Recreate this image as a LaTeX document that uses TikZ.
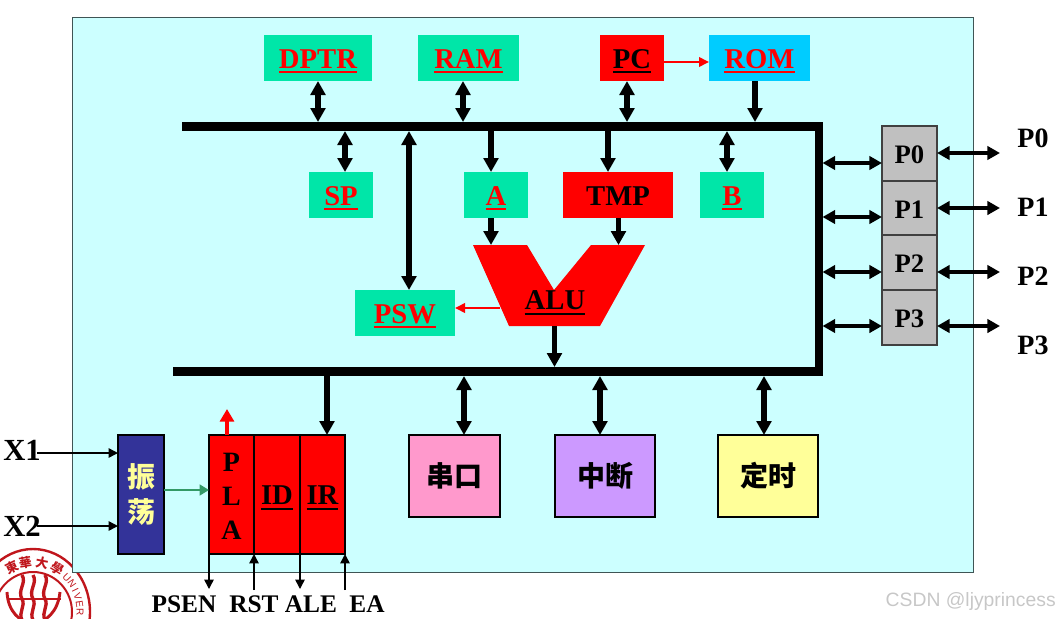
\documentclass[tikz,border=0pt]{standalone}
\usepackage{fontspec}
\setmainfont{Liberation Serif}
\newfontfamily\cjk{Noto Sans CJK SC}
\newfontfamily\wmfont{Liberation Sans}
\usetikzlibrary{arrows.meta,calc}
\definecolor{bgc}{HTML}{CCFFFF}
\definecolor{bdc}{HTML}{3F5555}
\definecolor{grn}{HTML}{00E6A8}
\definecolor{sky}{HTML}{00CCFF}
\definecolor{navy}{HTML}{333399}
\definecolor{pinkb}{HTML}{FF99CC}
\definecolor{purp}{HTML}{CC99FF}
\definecolor{yelb}{HTML}{FFFF99}
\definecolor{pgray}{HTML}{C0C0C0}
\definecolor{sealc}{HTML}{C0161C}
\definecolor{arrg}{HTML}{339966}
\newsavebox\ulb
\newcommand\ulx[1]{\leavevmode\sbox\ulb{#1}\smash{\rlap{\rule[-3.6pt]{\wd\ulb}{1.6pt}}}\usebox\ulb}
\tikzset{
  x=0.75pt,y=-0.75pt,
  sz/.style 2 args={minimum width=#1*0.75pt,minimum height=#2*0.75pt,inner sep=0pt,outer sep=0pt},
  lab/.style={font=\fontsize{21.5}{24}\bfseries,text depth=0pt,text height=15.7pt},
  gbox/.style={rectangle,fill=grn,text=red,lab},
  rbox/.style={rectangle,fill=red,text=black,lab},
  ebox/.style={rectangle,draw=black,line width=0.8pt,font=\fontsize{21}{24}\cjk\bfseries},
  pbox/.style={rectangle,draw=black!75,line width=0.8pt,fill=pgray},
  txt/.style={inner sep=0pt,font=\fontsize{21}{24}\bfseries},
  bus/.style={rectangle,fill=black,inner sep=0pt,outer sep=0pt},
  tt/.style={line width=3.9pt,-{Triangle[length=10.5pt,width=11pt]}},
  ttb/.style={line width=3.9pt,{Triangle[length=10.5pt,width=11pt]}-{Triangle[length=10.5pt,width=11pt]}},
  pt/.style={line width=3pt,{Triangle[length=9.5pt,width=10pt]}-{Triangle[length=9.5pt,width=10pt]}},
  thin1/.style={line width=1.1pt,-{Triangle[length=7pt,width=7pt]}},
  red1/.style={line width=2pt,red,-{Triangle[length=7.5pt,width=7pt]}},
}
\begin{document}
\begin{tikzpicture}
\useasboundingbox (0,0) rectangle (1060,618);
% seal
\begin{scope}
\clip (0,0) rectangle (1060,618);
\draw[sealc,line width=1.8pt] (33,612) ellipse[x radius=57,y radius=63];
\draw[sealc,line width=1.5pt] (33,612) ellipse[x radius=39,y radius=40];
\foreach \a/\c/\n in {116/東/a,99.5/華/b,79/大/c,59/學/d}{
  \node[inner sep=0pt,text=sealc,font=\fontsize{9.5}{10}\cjk\bfseries,rotate=\a-90] (seal\n) at ({33+47*cos(\a)},{612-50*sin(\a)}) {\c};
}
\foreach \a/\c/\n in {44/U/e,34/N/f,26/I/g,18/V/h,9/E/i,0/R/j}{
  \node[inner sep=0pt,text=sealc,font=\fontsize{7.5}{8}\selectfont\wmfont,rotate=\a-90] (seal\n) at ({33+47*cos(\a)},{612-50*sin(\a)}) {\c};
}
\draw[sealc,line width=2.2pt] (7,592) .. controls (8,612) and (20,622) .. (33,624) .. controls (46,622) and (58,612) .. (60,592);
\draw[sealc,line width=2.2pt] (8,599) -- (61,599);
\foreach \dx in {-11,0,12}{
  \draw[sealc,line width=2.5pt] ({33+\dx},575) .. controls ({38+\dx},583) and ({28+\dx},590) .. ({33+\dx},599) .. controls ({37+\dx},606) and ({29+\dx},612) .. ({33+\dx},620);
}
\end{scope}
% panel
\node[rectangle,draw=bdc,line width=0.75pt,fill=bgc,sz={901}{555}] (panel) at (522.5,294.5) {};
% buses
\node[bus,sz={636}{9}] (bus1) at (500,126.5) {};
\node[bus,sz={645}{9}] (bus2) at (495.5,371.5) {};
\node[bus,sz={8}{254}] (vbus) at (818.5,249) {};
% top row
\node[gbox,sz={108}{46}] (dptr) at (318,58) {\ulx{DPTR}};
\node[gbox,sz={101}{46}] (ram) at (468.5,58) {\ulx{RAM}};
\node[rbox,sz={64}{46}] (pc) at (632,58) {\ulx{PC}};
\node[gbox,fill=sky,sz={101}{46}] (rom) at (759.5,58) {\ulx{ROM}};
% second row
\node[gbox,sz={64}{46}] (sp) at (341,195) {\ulx{SP}};
\node[gbox,sz={64}{46}] (aa) at (496,195) {\ulx{A}};
\node[rbox,sz={110}{46}] (tmp) at (618,195) {TMP};
\node[gbox,sz={64}{46}] (bb) at (732,195) {\ulx{B}};
\node[gbox,sz={100}{46}] (psw) at (405,313) {\ulx{PSW}};
% ALU
\fill[red] (473,245) -- (527,245) -- (554,290) -- (591,245) -- (645,245) -- (600,326) -- (509,326) -- cycle;
\node[lab,inner sep=0pt,text=black] (alu) at (555,299.5) {\ulx{ALU}};
\coordinate (alul) at (491,245);
\coordinate (alur) at (618.5,245);
\coordinate (alub) at (554.5,326);
\coordinate (aluw) at (500,308);
% ports
\node[pbox,sz={55}{55}] (p0) at (909.5,153.5) {};
\node[pbox,sz={55}{54}] (p1) at (909.5,208) {};
\node[pbox,sz={55}{55}] (p2) at (909.5,262.5) {};
\node[pbox,sz={55}{55}] (p3) at (909.5,317.5) {};
\tikzset{ptxt/.style={inner sep=0pt,font=\fontsize{20}{24}\bfseries}}
\node[ptxt] (t0) at (909.5,155) {P0};
\node[ptxt] (t1) at (909.5,209.5) {P1};
\node[ptxt] (t2) at (909.5,264) {P2};
\node[ptxt] (t3) at (909.5,319) {P3};
\node[txt,anchor=center] (l0) at (1033,138) {P0};
\node[txt] (l1) at (1033,207) {P1};
\node[txt] (l2) at (1033,276) {P2};
\node[txt] (l3) at (1033,345) {P3};
% lower
\node[ebox,fill=pinkb,sz={91}{82}] (ser) at (454.5,476) {串口};
\node[ebox,fill=purp,sz={100}{82}] (inte) at (605,476) {中断};
\node[ebox,fill=yelb,sz={100}{82}] (tim) at (768,476) {定时};
\node[rectangle,draw=black,line width=0.8pt,fill=navy,text=yelb,sz={46}{119},align=center,font=\fontsize{21}{26}\cjk\bfseries] (vib) at (141,494.5) {振\\荡};
\node[rbox,draw=black,line width=0.8pt,sz={45}{119}] (pla) at (231.5,494.5) {};
\node[inner sep=0pt,align=center,font=\fontsize{21}{25.5}\bfseries] (plat) at (231.5,496.5) {P\\L\\A};
\node[rbox,draw=black,line width=0.8pt,sz={46}{119}] (idr) at (277,494.5) {\ulx{ID}};
\node[rbox,draw=black,line width=0.8pt,sz={45}{119}] (irr) at (322.5,494.5) {\ulx{IR}};
\node[txt,font=\fontsize{23}{26}\bfseries] (x1) at (22,450) {X1};
\node[txt,font=\fontsize{23}{26}\bfseries] (x2) at (22,526) {X2};
\tikzset{blab/.style={txt,font=\fontsize{19}{22}\bfseries}}
\node[blab] (psen) at (184,604) {PSEN};
\node[blab] (rst) at (254,604) {RST};
\node[blab] (ale) at (311,604) {ALE};
\node[blab] (ea) at (367,604) {EA};
\node[inner sep=0pt,text=black!22,font=\fontsize{14.5}{16}\wmfont,anchor=east] (wm) at (1056,601) {CSDN @ljyprincess};
% connectors top
\draw[ttb] (dptr.south) -- (dptr.south |- bus1.north);
\coordinate (cram) at (463,81);
\draw[ttb] (cram) -- (cram |- bus1.north);
\coordinate (cpc) at (627,81);
\draw[ttb] (cpc) -- (cpc |- bus1.north);
\coordinate (crom) at (755,81);
\draw[tt] (crom) -- (crom |- bus1.north);
\coordinate (cpr) at (664,62);
\draw[red1] (cpr) -- (cpr -| rom.west);
% connectors below bus1
\coordinate (csp) at (345,172);
\draw[ttb] (csp |- bus1.south) -- (csp);
\coordinate (cpsw) at (409,290);
\draw[ttb] (cpsw |- bus1.south) -- (cpsw);
\coordinate (ca) at (491,172);
\draw[tt] (ca |- bus1.south) -- (ca);
\coordinate (ct) at (608,172);
\draw[tt] (ct |- bus1.south) -- (ct);
\coordinate (cb) at (727,172);
\draw[ttb] (cb |- bus1.south) -- (cb);
\coordinate (ca2) at (491,218);
\draw[tt] (ca2) -- (alul);
\coordinate (ct2) at (618.5,218);
\draw[tt] (ct2) -- (alur);
\draw[red1] (aluw) -- (aluw -| psw.east);
\draw[tt] (alub) -- (alub |- bus2.north);
% bus2
\draw[ttb] (464,0 |- bus2.south) -- (464,0 |- ser.north);
\draw[ttb] (600,0 |- bus2.south) -- (600,0 |- inte.north);
\draw[ttb] (764,0 |- bus2.south) -- (764,0 |- tim.north);
\coordinate (cir) at (327,435);
\draw[tt] (cir |- bus2.south) -- (cir);
% ports arrows
\foreach \n/\yl/\yr in {p0/163/153,p1/217/208,p2/272/272,p3/326/326}{
  \draw[pt] (vbus.east |- 0,\yl) -- (\n.west |- 0,\yl);
  \coordinate (e\n) at (1000,\yr);
  \draw[pt] (\n.east |- 0,\yr) -- (e\n);
}
% clock etc.
\coordinate (sx1) at (37,453);
\coordinate (sx2) at (37,526);
\draw[thin1] (sx1) -- (sx1 -| vib.west);
\draw[thin1] (sx2) -- (sx2 -| vib.west);
\coordinate (cg) at (164,490);
\draw[line width=2.2pt,arrg,-{Triangle[length=7pt,width=8pt]}] (cg) -- (cg -| pla.west);
\coordinate (cr1) at (227,435);
\coordinate (cr2) at (227,409);
\draw[line width=3.6pt,red,-{Triangle[length=9.5pt,width=10.5pt]}] (cr1) -- (cr2);
\coordinate (ba) at (209,589);
\coordinate (bb2) at (254,590);
\coordinate (bc) at (300,589);
\coordinate (bd) at (345,590);
\draw[thin1] (ba |- pla.south) -- (ba);
\draw[thin1] (bb2) -- (bb2 |- pla.south);
\draw[thin1] (bc |- pla.south) -- (bc);
\draw[thin1] (bd) -- (bd |- pla.south);
\end{tikzpicture}
\end{document}
